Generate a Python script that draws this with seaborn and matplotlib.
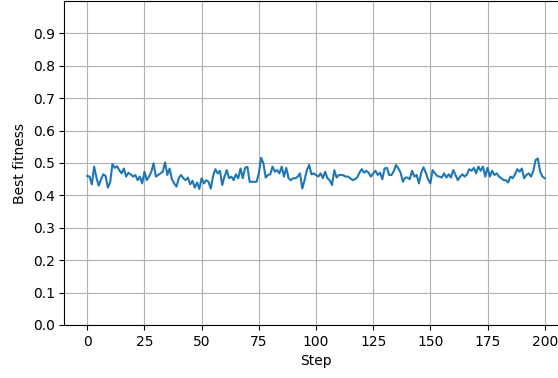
import numpy as np
import pandas as pd
import matplotlib
matplotlib.use("Agg")
import matplotlib.pyplot as plt
import seaborn as sns

steps = list(range(201))
best_fitness = [
    0.460, 0.458, 0.434, 0.489, 0.455, 0.430, 0.450, 0.465, 0.460, 0.424,
    0.440, 0.497, 0.485, 0.490, 0.478, 0.468, 0.483, 0.458, 0.470, 0.465,
    0.458, 0.463, 0.447, 0.458, 0.437, 0.473, 0.447, 0.458, 0.473, 0.499,
    0.458, 0.463, 0.468, 0.473, 0.502, 0.463, 0.483, 0.450, 0.437, 0.427,
    0.453, 0.463, 0.453, 0.447, 0.455, 0.434, 0.445, 0.424, 0.440, 0.420,
    0.453, 0.437, 0.447, 0.442, 0.421, 0.460, 0.481, 0.468, 0.476, 0.432,
    0.458, 0.478, 0.453, 0.458, 0.447, 0.465, 0.453, 0.483, 0.453, 0.485,
    0.488, 0.442, 0.442, 0.442, 0.442, 0.468, 0.516, 0.499, 0.455, 0.463,
    0.465, 0.489, 0.473, 0.478, 0.468, 0.489, 0.458, 0.485, 0.453, 0.447,
    0.453, 0.453, 0.458, 0.468, 0.421, 0.447, 0.478, 0.494, 0.465, 0.468,
    0.463, 0.458, 0.468, 0.453, 0.473, 0.453, 0.447, 0.432, 0.478, 0.455,
    0.463, 0.463, 0.462, 0.458, 0.458, 0.453, 0.447, 0.450, 0.455, 0.470,
    0.481, 0.470, 0.476, 0.470, 0.458, 0.468, 0.476, 0.463, 0.470, 0.450,
    0.483, 0.485, 0.463, 0.463, 0.475, 0.494, 0.483, 0.470, 0.442, 0.455,
    0.455, 0.450, 0.476, 0.458, 0.463, 0.437, 0.470, 0.487, 0.470, 0.450,
    0.437, 0.478, 0.468, 0.460, 0.458, 0.455, 0.468, 0.455, 0.465, 0.455,
    0.478, 0.463, 0.447, 0.458, 0.465, 0.458, 0.465, 0.481, 0.476, 0.485,
    0.468, 0.489, 0.476, 0.489, 0.458, 0.485, 0.458, 0.476, 0.463, 0.468,
    0.458, 0.453, 0.447, 0.447, 0.440, 0.458, 0.453, 0.465, 0.481, 0.473,
    0.483, 0.453, 0.463, 0.468, 0.458, 0.475, 0.509, 0.514, 0.473, 0.458,
    0.453,
]
x_ticks = [0, 25, 50, 75, 100, 125, 150, 175, 200]
y_ticks = [0.0, 0.1, 0.2, 0.3, 0.4, 0.5, 0.6, 0.7, 0.8, 0.9]

df = pd.DataFrame({"Step": steps, "Best fitness": best_fitness})

plt.rcParams["font.family"] = ["DejaVu Sans"]
fig = plt.figure(figsize=(5.58, 3.78), dpi=100)
ax = fig.add_axes([64.4 / 558, 53 / 378, (567.6 - 64.4) / 558, 324 / 378])

sns.lineplot(data=df, x="Step", y="Best fitness", ax=ax, color="#1f77b4", linewidth=1.5)

ax.set_xlim(-10, 210)
ax.set_ylim(0, 1.0)
ax.set_xticks(x_ticks)
ax.set_yticks(y_ticks)
ax.set_yticklabels([f"{v:.1f}" for v in y_ticks])
ax.grid(True, color="#b0b0b0", linewidth=0.8)
ax.set_axisbelow(True)
ax.set_xlabel("Step")
ax.set_ylabel("Best fitness")

fig.savefig("out.png", dpi=100)
